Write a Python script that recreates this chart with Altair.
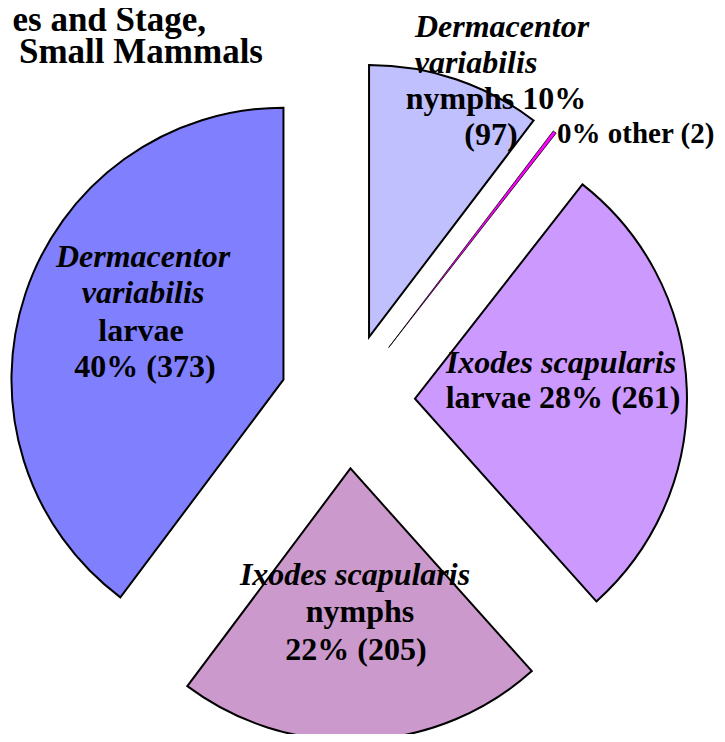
import math
import altair as alt
import pandas as pd

# ---- data ----
slice_names = ["Dv nymphs", "other", "Is larvae", "Is nymphs", "Dv larvae"]
species = ["Dermacentor variabilis", "other", "Ixodes scapularis", "Ixodes scapularis", "Dermacentor variabilis"]
stages = ["nymphs", "other", "larvae", "nymphs", "larvae"]
counts = [97, 2, 261, 205, 373]
colors = ["#C0C0FF", "#FF00FF", "#CC99FF", "#CC99CC", "#8080FF"]
title_lines = ["es and Stage,", "Small Mammals"]

total = sum(counts)
pct = [round(100 * c / total) for c in counts]

# ---- layout ----
W, H = 709, 726
CX, CY = 339.5, 393.0   # pie centre
EXPLODE = 67.5
RADIUS = 272
FONT = "Liberation Serif"

slices = pd.DataFrame({
    "slice": slice_names,
    "species": species,
    "stage": stages,
    "count": counts,
    "order": list(range(len(counts))),
})

arc = alt.Chart(slices).transform_joinaggregate(
    total="sum(count)"
).transform_window(
    cum="sum(count)", sort=[alt.SortField("order", order="ascending")], frame=[None, 0]
).transform_calculate(
    f0="(datum.cum - datum.count) / datum.total",
    f1="datum.cum / datum.total",
    mid="PI * (2 * datum.cum - datum.count) / datum.total",
).transform_calculate(
    ex="sin(datum.mid)",
    ey="cos(datum.mid)",
).mark_arc(radius=RADIUS, stroke="black", strokeJoin="miter").encode(
    theta=alt.Theta("f0:Q", scale=alt.Scale(domain=[0, 1], range=[0, 2 * math.pi]), stack=False),
    theta2=alt.Theta2("f1"),
    x=alt.X("ex:Q", scale=alt.Scale(domain=[-1, 1], range=[CX - EXPLODE, CX + EXPLODE], nice=False, zero=False), axis=None),
    y=alt.Y("ey:Q", scale=alt.Scale(domain=[-1, 1], range=[CY + EXPLODE, CY - EXPLODE], nice=False, zero=False), axis=None),
    color=alt.Color("slice:N", scale=alt.Scale(domain=slice_names, range=colors), legend=None),
    strokeWidth=alt.condition(alt.datum.slice == "other", alt.value(0.8), alt.value(2)),
)

# label lines: text, style, x (centre), baseline y
labels = [
    ("Dermacentor", "italic", 494, 29),
    ("variabilis", "italic", 468, 65),
    (f"{stages[0]} {pct[0]}%", "normal", 488, 101),
    (f"({counts[0]})", "normal", 483, 137),
    ("Ixodes scapularis", "italic", 553, 365),
    (f"{stages[2]} {pct[2]}% ({counts[2]})", "normal", 555, 400),
    ("Ixodes scapularis", "italic", 347, 577),
    (stages[3], "normal", 352, 614),
    (f"{pct[3]}% ({counts[3]})", "normal", 348, 652),
    ("Dermacentor", "italic", 135, 259),
    ("variabilis", "italic", 135, 295),
    (stages[4], "normal", 133, 333),
    (f"{pct[4]}% ({counts[4]})", "normal", 137, 369),
]
lab = pd.DataFrame(labels, columns=["text", "style", "x", "y"])

enc = dict(
    x=alt.X("x:Q", scale=None, axis=None),
    y=alt.Y("y:Q", scale=None, axis=None),
    text="text:N",
)

t_italic = alt.Chart(lab[lab["style"] == "italic"]).mark_text(
    font=FONT, fontSize=32, fontWeight="bold", fontStyle="italic",
    align="center", baseline="alphabetic", color="black",
).encode(**enc)

t_bold = alt.Chart(lab[lab["style"] == "normal"]).mark_text(
    font=FONT, fontSize=32, fontWeight="bold",
    align="center", baseline="alphabetic", color="black",
).encode(**enc)

other = pd.DataFrame({"text": [f"{pct[1]}% {stages[1]} ({counts[1]})"], "x": [549], "y": [135]})
t_other = alt.Chart(other).mark_text(
    font=FONT, fontSize=29, fontWeight="bold",
    align="left", baseline="alphabetic", color="black",
).encode(**enc)

title = pd.DataFrame({"text": title_lines, "x": [198, 255], "y": [23, 55]})
t_title = alt.Chart(title).mark_text(
    font=FONT, fontSize=35, fontWeight="bold",
    align="right", baseline="alphabetic", color="black",
).encode(**enc)

chart = alt.layer(arc, t_italic, t_bold, t_other, t_title).resolve_scale(
    x="independent", y="independent"
).properties(
    width=W, height=H, autosize=alt.AutoSizeParams(type="none"), padding=0,
    background="white",
).configure_view(stroke=None)

chart.save("out.html", embed_options={"renderer": "svg", "actions": False})
